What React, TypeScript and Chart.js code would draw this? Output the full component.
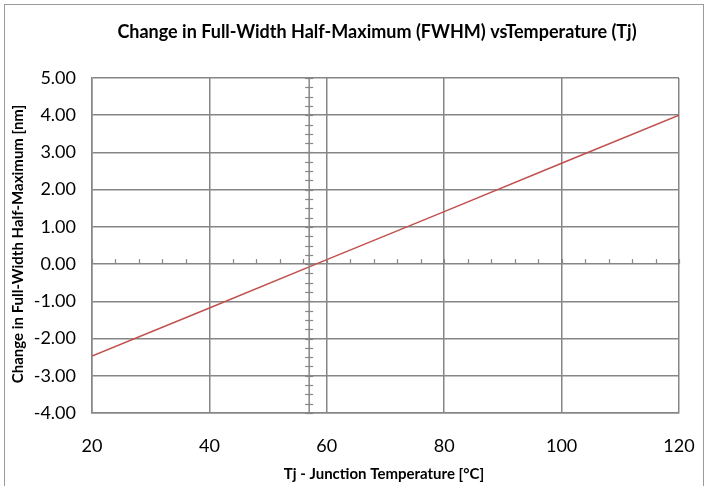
import React, { useEffect, useRef } from "react";
import { Chart, registerables } from "chart.js";

Chart.register(...registerables);

const temps = [20, 40, 60, 80, 100, 120];
const fwhmChange = [-2.47, -1.18, 0.12, 1.41, 2.71, 4.0];
const xTicks = [20, 40, 60, 80, 100, 120];
const yTicks = [-4, -3, -2, -1, 0, 1, 2, 3, 4, 5];
const crossAxisX = 57;
const titleText = "Change in Full-Width Half-Maximum (FWHM) vsTemperature (Tj)";
const yTitle = "Change in Full-Width Half-Maximum [nm]";
const xTitle = "Tj - Junction Temperature [°C]";

const FONT = "Lato, 'Open Sans', sans-serif";
const GRID = "#868686";

export default function App() {
  const ref = useRef<HTMLCanvasElement | null>(null);
  useEffect(() => {
    document.body.style.margin = "0";
    const extras = {
      id: "extras",
      afterDraw(chart: any) {
        const { ctx, chartArea } = chart;
        const xs = chart.scales.x;
        const ys = chart.scales.y;
        ctx.save();
        ctx.strokeStyle = GRID;
        ctx.lineWidth = 1.5;
        const vx = xs.getPixelForValue(crossAxisX);
        ctx.beginPath();
        ctx.moveTo(vx, chartArea.top);
        ctx.lineTo(vx, chartArea.bottom);
        ctx.stroke();
        ctx.lineWidth = 1.2;
        for (let v = yTicks[0]; v <= yTicks[yTicks.length - 1] + 1e-9; v += 0.25) {
          const py = Math.round(ys.getPixelForValue(v)) + 0.5;
          ctx.beginPath();
          ctx.moveTo(vx - 4, py);
          ctx.lineTo(vx + 4, py);
          ctx.stroke();
        }
        const zy = ys.getPixelForValue(0);
        for (let v = xTicks[0]; v <= xTicks[xTicks.length - 1] + 1e-9; v += 4) {
          const px = Math.round(xs.getPixelForValue(v)) + 0.5;
          ctx.beginPath();
          ctx.moveTo(px, zy);
          ctx.lineTo(px, zy - 5);
          ctx.stroke();
        }
        ctx.fillStyle = "#000";
        ctx.textAlign = "center";
        ctx.textBaseline = "middle";
        ctx.font = `bold 18px ${FONT}`;
        ctx.fillText(titleText, 377, 32);
        ctx.font = `bold 15px ${FONT}`;
        ctx.fillText(xTitle, 384, 474);
        ctx.translate(18, 244);
        ctx.rotate(-Math.PI / 2);
        ctx.fillText(yTitle, 0, 0);
        ctx.restore();
      },
    };
    const chart = new Chart(ref.current as HTMLCanvasElement, {
      type: "line",
      data: {
        datasets: [
          {
            data: temps.map((t, i) => ({ x: t, y: fwhmChange[i] })),
            borderColor: "#c0504d",
            borderWidth: 1.5,
            pointRadius: 0,
            fill: false,
            tension: 0,
          },
        ],
      },
      options: {
        animation: false,
        responsive: false,
        maintainAspectRatio: false,
        layout: { padding: { top: 78, right: 27, left: 0, bottom: 0 } },
        plugins: { legend: { display: false }, title: { display: false }, tooltip: { enabled: false } },
        scales: {
          x: {
            type: "linear",
            min: 20,
            max: 120,
            afterBuildTicks: (s: any) => {
              s.ticks = xTicks.map((v) => ({ value: v }));
            },
            afterFit: (s: any) => {
              s.height = 73;
              s.paddingRight = 0;
              s.paddingLeft = 0;
            },
            grid: { color: GRID, lineWidth: 1.5, drawTicks: false },
            border: { color: GRID, width: 1.5 },
            ticks: { padding: 22, color: "#000", font: { family: FONT, size: 18 }, maxRotation: 0 },
          },
          y: {
            type: "linear",
            min: -4,
            max: 5,
            afterBuildTicks: (s: any) => {
              s.ticks = yTicks.map((v) => ({ value: v }));
            },
            afterFit: (s: any) => {
              s.width = 92;
              s.paddingTop = 0;
              s.paddingBottom = 0;
            },
            grid: { color: GRID, lineWidth: 1.5, drawTicks: false },
            border: { color: GRID, width: 1.5 },
            ticks: {
              padding: 16,
              color: "#000",
              font: { family: FONT, size: 18 },
              callback: (v: any) => Number(v).toFixed(2),
            },
          },
        },
      },
      plugins: [extras],
    });
    return () => chart.destroy();
  }, []);
  return (
    <div style={{ position: "relative", width: 706, height: 486, background: "#fff" }}>
      <canvas ref={ref} width={706} height={486} style={{ display: "block" }} />
      <div
        style={{
          position: "absolute",
          left: 4,
          top: 4,
          width: 700,
          height: 490,
          border: "1.5px solid #9a9a9a",
          boxSizing: "border-box",
          pointerEvents: "none",
        }}
      />
    </div>
  );
}
